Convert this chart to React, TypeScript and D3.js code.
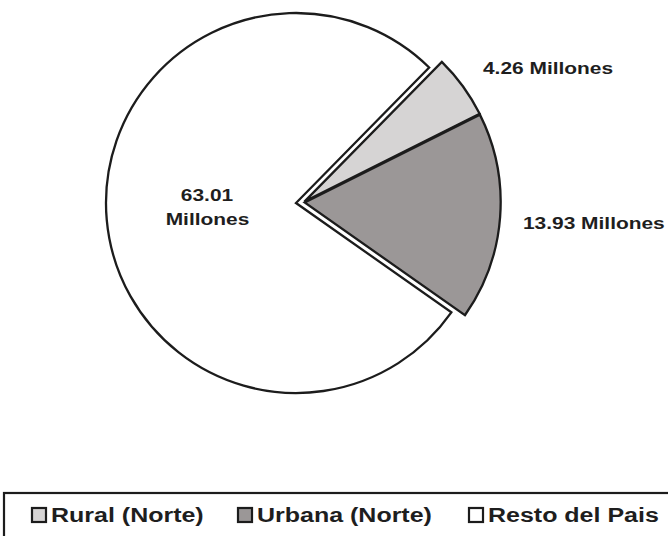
import React from "react";
import * as d3 from "d3";

const categories = ["Rural (Norte)", "Urbana (Norte)", "Resto del Pais"];
const values = [4.26, 13.93, 63.01];
const valueLabels = ["4.26 Millones", "13.93 Millones", "63.01 Millones"];
const fills = ["#d6d4d4", "#9b9797", "#ffffff"];
const exploded = [true, true, false];

const W = 668;
const H = 536;
const cx = 296;
const cy = 203;
const rMain = 190;
const rExp = 196;
const groupOffset = 7.5;
const sliceOffset = 1.2;
const STROKE = "#1c1c1c";
const FONT = "'Liberation Sans', Arial, sans-serif";
const SX = 1.23;

export default function App() {
  const start = (44.5 * Math.PI) / 180;
  const pie = d3
    .pie<number>()
    .sort(null)
    .value((d) => d)
    .startAngle(start)
    .endAngle(start + Math.PI * 2);
  const arcs = pie(values);

  const expArcs = arcs.filter((_, i) => exploded[i]);
  const gStart = d3.min(expArcs, (a) => a.startAngle) as number;
  const gEnd = d3.max(expArcs, (a) => a.endAngle) as number;
  const gMid = (gStart + gEnd) / 2;

  const arcMain = d3.arc<d3.PieArcDatum<number>>().innerRadius(0).outerRadius(rMain);
  const arcExp = d3.arc<d3.PieArcDatum<number>>().innerRadius(0).outerRadius(rExp);

  const legendX = [32, 238, 469];

  return (
    <div style={{ position: "fixed", left: 0, top: 0, width: W, height: H, background: "#fff" }}>
      <svg width={W} height={H} style={{ display: "block" }}>
        <rect x={0} y={0} width={W} height={H} fill="#ffffff" />
        {arcs.map((a, i) => {
          let dx = 0;
          let dy = 0;
          let path = arcMain(a) as string;
          if (exploded[i]) {
            const mid = (a.startAngle + a.endAngle) / 2;
            dx = Math.sin(gMid) * groupOffset + Math.sin(mid) * sliceOffset;
            dy = -Math.cos(gMid) * groupOffset - Math.cos(mid) * sliceOffset;
            path = arcExp(a) as string;
          }
          return (
            <path
              key={categories[i]}
              d={path}
              transform={`translate(${cx + dx},${cy + dy})`}
              fill={fills[i]}
              stroke={STROKE}
              strokeWidth={2.3}
              strokeLinejoin="miter"
            />
          );
        })}
        <g fontFamily={FONT} fontWeight="bold" fontSize={17} fill="#1e1e1e">
          <text transform={`translate(483,74) scale(${SX},1)`}>{valueLabels[0]}</text>
          <text transform={`translate(523,229) scale(${SX},1)`}>{valueLabels[1]}</text>
          <text transform={`translate(207,201) scale(${SX},1)`} textAnchor="middle">
            {valueLabels[2].split(" ")[0]}
          </text>
          <text transform={`translate(207.5,225) scale(${SX},1)`} textAnchor="middle">
            {valueLabels[2].split(" ")[1]}
          </text>
        </g>
        <rect x={4} y={493} width={700} height={60} fill="none" stroke={STROKE} strokeWidth={2.2} />
        <g fontFamily={FONT} fontWeight="bold" fontSize={20} fill="#1e1e1e">
          {categories.map((c, i) => (
            <g key={c}>
              <rect
                x={legendX[i]}
                y={508}
                width={14}
                height={14}
                fill={fills[i]}
                stroke={STROKE}
                strokeWidth={2.2}
              />
              <text transform={`translate(${legendX[i] + 19},522) scale(1.25,1)`}>{c}</text>
            </g>
          ))}
        </g>
      </svg>
    </div>
  );
}
